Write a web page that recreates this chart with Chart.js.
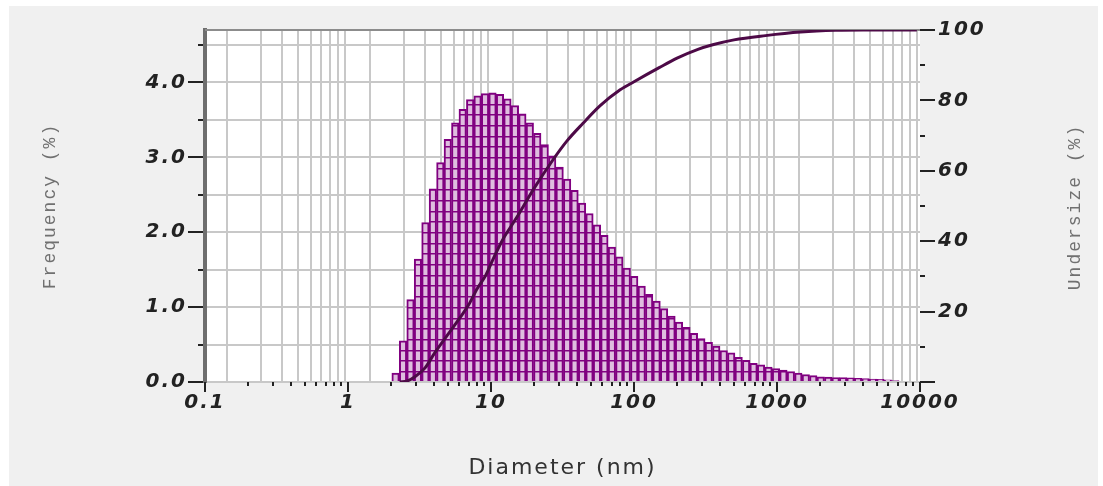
<!DOCTYPE html>
<html>
<head>
<meta charset="utf-8">
<script src="https://cdn.jsdelivr.net/npm/chart.js@4.4.1/dist/chart.umd.min.js"></script>
<style>
  html, body { margin: 0; padding: 0; background: #fff; }
  canvas { display: block; }
</style>
</head>
<body>
<canvas id="psd" width="1103" height="486"></canvas>
<script>
// particle size distribution
const diameters = [2.151, 2.426, 2.735, 3.084, 3.477, 3.921, 4.421, 4.985, 5.622, 6.339,
  7.148, 8.060, 9.088, 10.25, 11.56, 13.03, 14.70, 16.57, 18.69, 21.07,
  23.76, 26.79, 30.21, 34.06, 38.41, 43.31, 48.84, 55.07, 62.10, 70.02,
  78.96, 89.04, 100.4, 113.2, 127.6, 143.9, 162.3, 183.0, 206.4, 232.7,
  262.4, 295.9, 333.6, 376.2, 424.2, 478.4, 539.5, 608.3, 685.9, 773.4,
  872.2, 983.5, 1109, 1251, 1410, 1590, 1793, 2022, 2280, 2570,
  2899, 3269, 3686, 4156, 4687, 5284, 5959, 6719];
const frequency = [0.12, 0.55, 1.10, 1.64, 2.13, 2.58, 2.93, 3.24, 3.46, 3.64,
  3.77, 3.82, 3.85, 3.86, 3.84, 3.78, 3.69, 3.58, 3.46, 3.32,
  3.17, 3.02, 2.87, 2.71, 2.56, 2.39, 2.25, 2.10, 1.96, 1.80,
  1.67, 1.52, 1.41, 1.28, 1.17, 1.08, 0.98, 0.88, 0.80, 0.73,
  0.65, 0.58, 0.53, 0.48, 0.42, 0.39, 0.33, 0.29, 0.25, 0.23,
  0.20, 0.18, 0.16, 0.14, 0.12, 0.10, 0.085, 0.07, 0.065, 0.06,
  0.058, 0.055, 0.05, 0.045, 0.04, 0.035, 0.03, 0.02];
const cumDiameters = [2.3, 2.6, 2.94, 3.46, 4.0, 5.0, 6.0, 7.0, 8.0, 9.1,
  10.5, 12.1, 15, 20, 27, 34, 44, 58, 80, 100,
  150, 200, 280, 355, 500, 830, 1460, 2570, 4000, 9500];
const undersize = [0, 0.3, 1.5, 4, 8, 13.5, 18, 22, 26.5, 30,
  35.5, 40.5, 46.5, 55, 63, 68.5, 73.5, 78.5, 83, 85.3,
  89.3, 92.0, 94.5, 95.8, 97.2, 98.4, 99.4, 99.9, 100, 100];

const xTicks = [0.1, 0.2, 0.3, 0.4, 0.5, 0.6, 0.7, 0.8, 0.9,
  1, 2, 3, 4, 5, 6, 7, 8, 9,
  10, 20, 30, 40, 50, 60, 70, 80, 90,
  100, 200, 300, 400, 500, 600, 700, 800, 900,
  1000, 2000, 3000, 4000, 5000, 6000, 7000, 8000, 9000, 10000];
const xTickLabels = ['0.1', '1', '10', '100', '1000', '10000'];
const freqTicks = [0, 0.5, 1, 1.5, 2, 2.5, 3, 3.5, 4, 4.5];
const undersizeTicks = [0, 10, 20, 30, 40, 50, 60, 70, 80, 90, 100];

const purple = '#800080';
const tickFont = { family: '"DejaVu Sans"', size: 20, weight: 'bold', style: 'italic' };

const canvas = document.getElementById('psd');
const ctx = canvas.getContext('2d');

// striped fill seen inside the bars
const hatch = (() => {
  const c = document.createElement('canvas');
  c.width = 4; c.height = 107;
  const g = c.getContext('2d');
  g.fillStyle = '#dfbddf';
  g.fillRect(0, 0, 4, 107);
  g.fillStyle = purple;
  for (let i = 0; i < 10; i++) {
    g.fillRect(0, Math.round((60.7 + 10.7 * i) % 107), 4, 1.5);
  }
  return ctx.createPattern(c, 'repeat');
})();

const frame = {
  id: 'frame',
  beforeDraw(chart) {
    const { ctx, chartArea: a, width, height } = chart;
    ctx.save();
    ctx.fillStyle = '#ffffff';
    ctx.fillRect(0, 0, width, height);
    ctx.fillStyle = '#f0f0f0';
    ctx.fillRect(9, 6, width - 14, height - 6);
    ctx.fillStyle = '#ffffff';
    ctx.fillRect(a.left, a.top, a.right - a.left, a.bottom - a.top);
    ctx.restore();
    ctx.letterSpacing = '2px';
  },
  beforeDatasetsDraw(chart) {
    const { ctx, chartArea: a } = chart;
    ctx.save();
    ctx.strokeStyle = '#8c8c8c';
    ctx.lineWidth = 2;
    ctx.beginPath();
    ctx.moveTo(a.left, a.top);
    ctx.lineTo(a.right, a.top);
    ctx.stroke();
    ctx.restore();
  },
  afterDraw(chart) {
    const { ctx, chartArea: a } = chart;
    const { x, y, y2 } = chart.scales;
    ctx.save();
    ctx.strokeStyle = '#222';
    ctx.lineWidth = 2;
    ctx.beginPath();
    freqTicks.forEach(v => {
      const p = Math.round(y.getPixelForValue(v));
      const len = v % 1 === 0 ? 15 : 5;
      ctx.moveTo(a.left - 2 - len, p);
      ctx.lineTo(a.left - 2, p);
    });
    undersizeTicks.forEach(v => {
      const p = Math.round(y2.getPixelForValue(v));
      const len = v % 20 === 0 ? 15 : 5;
      ctx.moveTo(a.right, p);
      ctx.lineTo(a.right + len, p);
    });
    xTicks.forEach(v => {
      const p = Math.round(x.getPixelForValue(v));
      const len = xTickLabels.includes(String(v)) ? 10 : 4;
      ctx.moveTo(p, a.bottom);
      ctx.lineTo(p, a.bottom + len);
    });
    ctx.stroke();

    ctx.translate(1075, 207);
    ctx.rotate(-Math.PI / 2);
    ctx.font = '18px "Liberation Mono"';
    ctx.fillStyle = '#707070';
    ctx.textAlign = 'center';
    ctx.textBaseline = 'middle';
    ctx.fillText('Undersize (%)', 0, 0);
    ctx.restore();
  }
};

new Chart(canvas, {
  type: 'bar',
  data: {
    datasets: [{
      type: 'line',
      label: 'Undersize',
      data: cumDiameters.map((d, i) => ({ x: d, y: undersize[i] })),
      yAxisID: 'y2',
      borderColor: '#4d0a47',
      borderWidth: 3,
      pointRadius: 0,
      cubicInterpolationMode: 'monotone',
      order: 0
    }, {
      type: 'bar',
      label: 'Frequency',
      data: diameters.map((d, i) => ({ x: d, y: frequency[i] })),
      yAxisID: 'y',
      backgroundColor: hatch,
      borderColor: purple,
      borderWidth: 2,
      barThickness: 'flex',
      barPercentage: 1,
      categoryPercentage: 1,
      order: 1
    }]
  },
  options: {
    responsive: false,
    animation: false,
    layout: { padding: { top: 29, left: 0, right: 0, bottom: 0 } },
    plugins: { legend: { display: false }, tooltip: { enabled: false } },
    scales: {
      x: {
        type: 'logarithmic',
        position: 'bottom',
        min: 0.1,
        max: 10000,
        afterBuildTicks: s => { s.ticks = xTicks.map(v => ({ value: v })); },
        afterFit: s => { s.height = 104; },
        grid: { color: '#c8c8c8', lineWidth: 2, drawTicks: false },
        border: { display: false },
        ticks: {
          autoSkip: false,
          maxRotation: 0,
          padding: 9,
          color: '#222',
          font: tickFont,
          callback: v => xTickLabels.includes(String(v)) ? String(v) : ''
        },
        title: {
          display: true,
          text: 'Diameter (nm)',
          color: '#333',
          font: { family: '"DejaVu Sans"', size: 22 },
          padding: { top: 0, bottom: 5 }
        }
      },
      y: {
        position: 'left',
        min: 0,
        max: 4.7,
        afterBuildTicks: s => { s.ticks = freqTicks.map(v => ({ value: v })); },
        afterFit: s => { s.width = 205; },
        grid: { color: '#c8c8c8', lineWidth: 2, drawTicks: false },
        border: { display: true, color: '#6e6e6e', width: 4 },
        ticks: {
          padding: 18,
          color: '#222',
          font: tickFont,
          callback: v => v % 1 === 0 ? v.toFixed(1) : ''
        },
        title: {
          display: true,
          text: 'Frequency (%)',
          color: '#707070',
          font: { family: '"Liberation Mono"', size: 18 },
          padding: { top: 39, bottom: 0 }
        }
      },
      y2: {
        position: 'right',
        min: 0,
        max: 100,
        afterBuildTicks: s => { s.ticks = undersizeTicks.map(v => ({ value: v })); },
        afterFit: s => { s.width = 183; },
        grid: { display: false, drawTicks: false },
        border: { display: false },
        ticks: {
          padding: 18,
          color: '#222',
          font: tickFont,
          callback: v => (v % 20 === 0 && v > 0) ? String(v) : ''
        }
      }
    }
  },
  plugins: [frame]
});
</script>
</body>
</html>
